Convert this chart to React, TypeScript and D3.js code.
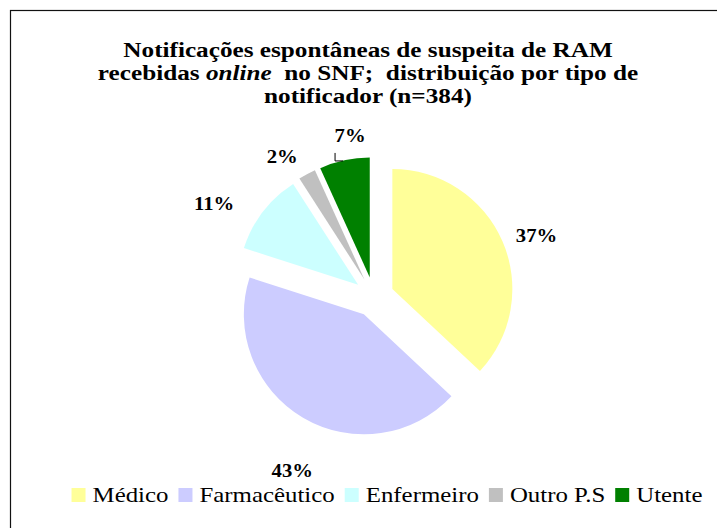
import React, { useEffect, useRef } from "react";
import * as d3 from "d3";

// Tipos de notificador e número de notificações (n=384)
const categories = ["Médico", "Farmacêutico", "Enfermeiro", "Outro P.S", "Utente"];
const counts = [142, 165, 42, 9, 26];
const colors = ["#FFFF99", "#CCCCFF", "#CCFFFF", "#C0C0C0", "#008000"];

// ajustes finos das etiquetas (dx, dy), como foram arrastadas no Excel
const labelNudge = [[2, 9], [7, 23], [-21, 14], [-8, 14], [13, 10]];

const W = 717;
const H = 528;
const FONT = "'Liberation Serif', 'Times New Roman', serif";
// o original usa Cambria, mais larga: esticar um pouco na horizontal
const STRETCH = 1.23;

export default function App() {
  const svgRef = useRef<SVGSVGElement>(null);

  useEffect(() => {
    if (!svgRef.current) return;
    const svg = d3.select(svgRef.current);
    svg.selectAll("*").remove();

    // moldura do gráfico (sai fora da janela à direita e em baixo)
    svg.append("rect")
      .attr("x", 10.5)
      .attr("y", 10.5)
      .attr("width", 760)
      .attr("height", 560)
      .attr("fill", "#fff")
      .attr("stroke", "#111")
      .attr("stroke-width", 1.2);

    // Título
    const titleX = 368;
    const titleLine = (y: number) =>
      svg.append("text")
        .attr("transform", `translate(${titleX},${y}) scale(${STRETCH},1)`)
        .attr("text-anchor", "middle")
        .style("font-family", FONT)
        .attr("font-weight", "bold")
        .attr("font-size", "20.5px")
        .attr("fill", "#000")
        .style("white-space", "pre");

    titleLine(57).text("Notificações espontâneas de suspeita de RAM");

    const line2 = titleLine(80);
    line2.append("tspan").text("recebidas ");
    line2.append("tspan").attr("font-style", "italic").text("online");
    line2.append("tspan").text("  no SNF;  distribuição por tipo de");

    titleLine(103).text("notificador (n=384)");

    // Tarte destacada
    const cx = 374;
    const cy = 297;
    const R = 120;
    const explode = 20;
    const total = d3.sum(counts);

    const arcs = d3.pie<number>().sort(null).value(d => d)(counts);
    const arc = d3.arc<d3.PieArcDatum<number>>().innerRadius(0).outerRadius(R);

    const g = svg.append("g").attr("transform", `translate(${cx},${cy})`);

    arcs.forEach((a, i) => {
      const mid = (a.startAngle + a.endAngle) / 2;
      g.append("path")
        .attr("d", arc(a) as string)
        .attr("fill", colors[i])
        .attr("transform", `translate(${Math.sin(mid) * explode},${-Math.cos(mid) * explode})`);
    });

    // Percentagens
    const labelR = explode + 155;
    arcs.forEach((a, i) => {
      const mid = (a.startAngle + a.endAngle) / 2;
      const lx = Math.sin(mid) * labelR + labelNudge[i][0];
      const ly = -Math.cos(mid) * labelR + labelNudge[i][1];
      g.append("text")
        .attr("transform", `translate(${lx},${ly + 6}) scale(1.12,1)`)
        .attr("text-anchor", "middle")
        .style("font-family", FONT)
        .attr("font-weight", "bold")
        .attr("font-size", "18.5px")
        .attr("fill", "#000")
        .text(d3.format(".0%")(a.value / total));

      // linha de chamada da etiqueta pequena (Utente)
      if (i === categories.length - 1) {
        g.append("path")
          .attr("d", `M${lx - 15},${ly + 17}V${ly + 25}H${lx - 7}`)
          .attr("fill", "none")
          .attr("stroke", "#000")
          .attr("stroke-width", 1);
      }
    });

    // Legenda
    const legend = svg.append("g");
    const sw = 14;
    const legendStretch = 1.13;
    const items = categories.map((c, i) => {
      const item = legend.append("g");
      item.append("rect")
        .attr("width", sw)
        .attr("height", sw)
        .attr("y", 488)
        .attr("fill", colors[i]);
      const t = item.append("text")
        .attr("transform", `translate(${sw + 7},502) scale(${legendStretch},1)`)
        .style("font-family", FONT)
        .attr("font-size", "22px")
        .attr("fill", "#000")
        .text(c);
      const w = (t.node() as SVGTextElement).getComputedTextLength() * legendStretch;
      return { item, w: sw + 7 + w };
    });
    const gap = 10;
    const legendW = d3.sum(items, d => d.w) + gap * (items.length - 1);
    let x = 387 - legendW / 2;
    items.forEach(d => {
      d.item.attr("transform", `translate(${x},0)`);
      x += d.w + gap;
    });
  }, []);

  return (
    <svg
      ref={svgRef}
      width={W}
      height={H}
      style={{ position: "absolute", left: 0, top: 0, display: "block", background: "#fff" }}
    />
  );
}
